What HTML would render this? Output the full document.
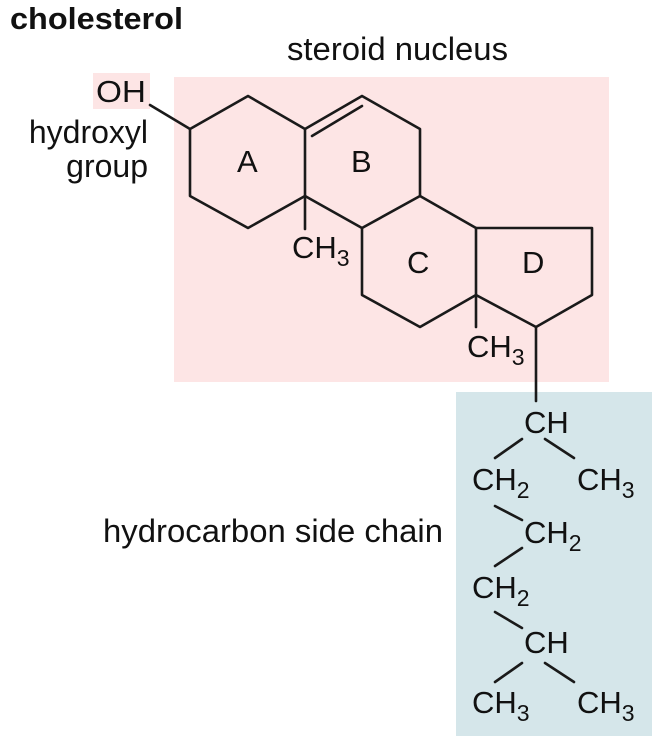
<!DOCTYPE html>
<html><head><meta charset="utf-8"><style>
html,body{margin:0;padding:0;background:#fff;}
svg{display:block;}
text{font-family:"Liberation Sans",Arial,sans-serif;fill:#111;}
</style></head><body>
<svg width="665" height="736" viewBox="0 0 665 736" xmlns="http://www.w3.org/2000/svg">
<rect x="174" y="77" width="435" height="305" fill="#fde5e5"/>
<rect x="456" y="392" width="196" height="344" fill="#d5e6ea"/>
<rect x="93" y="73" width="57" height="36" fill="#fde5e5"/>
<g stroke="#1a1a1a" stroke-width="2.6" fill="none" stroke-linejoin="round" stroke-linecap="round">
<path d="M150,105 L190,129"/>
<path d="M190,129 L248,96 L305,129 L305,196 L248,228 L190,196 Z"/>
<path d="M305,129 L362,96 L420,129 L420,196 L362,228 L305,196"/>
<path d="M312,136 L362,106"/>
<path d="M305,196 L305,229"/>
<path d="M420,196 L476,228 L476,295 L420,327 L362,295 L362,228"/>
<path d="M476,228 L592,228 L592,295 L536,327 L476,295"/>
<path d="M476,295 L476,327"/>
<path d="M536,327 L536,401"/>
<path d="M522,439 L495,458 M545,439 L574,458"/>
<path d="M495,506 L522,520"/>
<path d="M522,548 L495,566"/>
<path d="M495,612 L522,628"/>
<path d="M522,663 L495,682 M545,663 L574,682"/>
</g>
<text x="10" y="29" font-size="31" font-weight="bold" textLength="173" lengthAdjust="spacingAndGlyphs">cholesterol</text>
<text x="287" y="60" font-size="32" textLength="221" lengthAdjust="spacingAndGlyphs">steroid nucleus</text>
<text x="96" y="102" font-size="31" textLength="50" lengthAdjust="spacingAndGlyphs">OH</text>
<text x="148" y="143" font-size="32" text-anchor="end">hydroxyl</text>
<text x="148" y="177" font-size="32" text-anchor="end">group</text>
<text x="103" y="542" font-size="32" textLength="340" lengthAdjust="spacingAndGlyphs">hydrocarbon side chain</text>
<g font-size="31">
<text x="237" y="172">A</text>
<text x="351" y="172">B</text>
<text x="407" y="273">C</text>
<text x="522" y="273">D</text>
<text x="292" y="258">CH<tspan font-size="23" dy="8">3</tspan></text>
<text x="467" y="357">CH<tspan font-size="23" dy="8">3</tspan></text>
<text x="524" y="433">CH</text>
<text x="472" y="490">CH<tspan font-size="23" dy="8">2</tspan></text>
<text x="577" y="490">CH<tspan font-size="23" dy="8">3</tspan></text>
<text x="524" y="543">CH<tspan font-size="23" dy="8">2</tspan></text>
<text x="472" y="598">CH<tspan font-size="23" dy="8">2</tspan></text>
<text x="524" y="653">CH</text>
<text x="472" y="713">CH<tspan font-size="23" dy="8">3</tspan></text>
<text x="577" y="713">CH<tspan font-size="23" dy="8">3</tspan></text>
</g>
</svg>
</body></html>
